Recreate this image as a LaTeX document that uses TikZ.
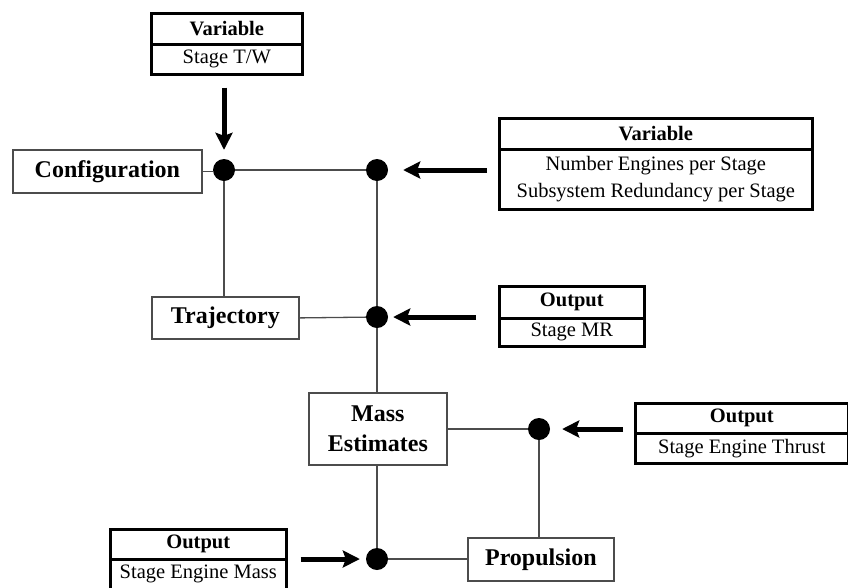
\documentclass[tikz,border=0pt]{standalone}
\usepackage{fontspec}
\setmainfont{Liberation Serif}
\usetikzlibrary{arrows.meta,calc}
\begin{document}
\begin{tikzpicture}[x=1pt,y=-1pt,
  proc/.style={draw=black!70, line width=1.8pt, fill=white, inner sep=0pt,
    anchor=north west, align=center,
    font=\fontsize{24}{30}\selectfont\bfseries},
  hdr/.style={draw=black, line width=2.6pt, inner sep=0pt, anchor=north west,
    font=\fontsize{20.5}{24}\selectfont\bfseries},
  bdy/.style={draw=black, line width=2.6pt, inner sep=0pt, anchor=north west,
    align=center, font=\fontsize{20.5}{27}\selectfont},
  junc/.style={circle, fill=black, inner sep=0pt, minimum size=22pt},
  link/.style={draw=black!70, line width=1.3pt},
  feed/.style={draw=black, line width=5pt,
    -{Stealth[length=17pt,width=17pt,inset=3pt]}},
]
\useasboundingbox (0,0) rectangle (848,587);
\clip (0,0) rectangle (848,587);

% process blocks
\node[proc, minimum width=189pt, minimum height=43pt] (conf) at (12,149) {Configuration};
\node[proc, minimum width=147pt, minimum height=42pt] (traj) at (151,296) {Trajectory};
\node[proc, minimum width=138pt, minimum height=72pt] (mass) at (308,392) {Mass\\Estimates};
\node[proc, minimum width=146pt, minimum height=43pt] (prop) at (467,537) {Propulsion};

% variable / output tables
\node[hdr, minimum width=151pt, minimum height=31pt] (v1h) at (150,12) {Variable};
\node[bdy, minimum width=151pt, minimum height=30pt] (v1b) at (150,43) {Stage T/W};

\node[hdr, minimum width=313pt, minimum height=31pt] (v2h) at (498,117) {Variable};
\node[bdy, minimum width=313pt, minimum height=60pt] (v2b) at (498,148) {Number Engines per Stage\\Subsystem Redundancy per Stage};

\node[hdr, minimum width=145pt, minimum height=32pt] (mrh) at (498,285) {Output};
\node[bdy, minimum width=145pt, minimum height=28pt] (mrb) at (498,317) {Stage MR};

\node[hdr, minimum width=213pt, minimum height=30pt] (thh) at (634,402) {Output};
\node[bdy, minimum width=213pt, minimum height=30pt] (thb) at (634,432) {Stage Engine Thrust};

\node[hdr, minimum width=176pt, minimum height=30pt] (emh) at (109,528) {Output};
\node[bdy, minimum width=176pt, minimum height=30pt] (emb) at (109,558) {Stage Engine Mass};

% junctions
\node[junc] (j1) at (224,170) {};
\node[junc] (j2) at (377,170) {};
\node[junc] (j3) at (377,317) {};
\node[junc] (j4) at (539,429) {};
\node[junc] (j5) at (377,559) {};

% connecting lines
\draw[link] (conf.east) -- (conf.east -| j1.west);
\draw[link] (j1) -- (j2);
\draw[link] (j1) -- (j1 |- traj.north);
\draw[link] (j2) -- (j3);
\draw[link] (traj.east) -- (j3);
\draw[link] (j3) -- (mass.north -| j3);
\draw[link] (mass.east) -- (mass.east -| j4.west);
\draw[link] (mass.south -| j5) -- (j5);
\draw[link] (j4) -- (j4 |- prop.north);
\draw[link] (j5) -- (prop.west |- j5);

% inputs and outputs feeding the junctions
\draw[feed, shorten <=12pt, shorten >=9pt] (v1b.south -| j1) -- (j1);
\draw[feed, shorten <=11pt, shorten >=15pt] (v2b.west |- j2) -- (j2);
\draw[feed, shorten <=22pt, shorten >=5pt] (mrh.west |- j3) -- (j3);
\draw[feed, shorten <=11pt, shorten >=12pt] (thb.west |- j4) -- (j4);
\draw[feed, shorten <=13pt, shorten >=6pt] (emb.east |- j5) -- (j5);
\end{tikzpicture}
\end{document}
